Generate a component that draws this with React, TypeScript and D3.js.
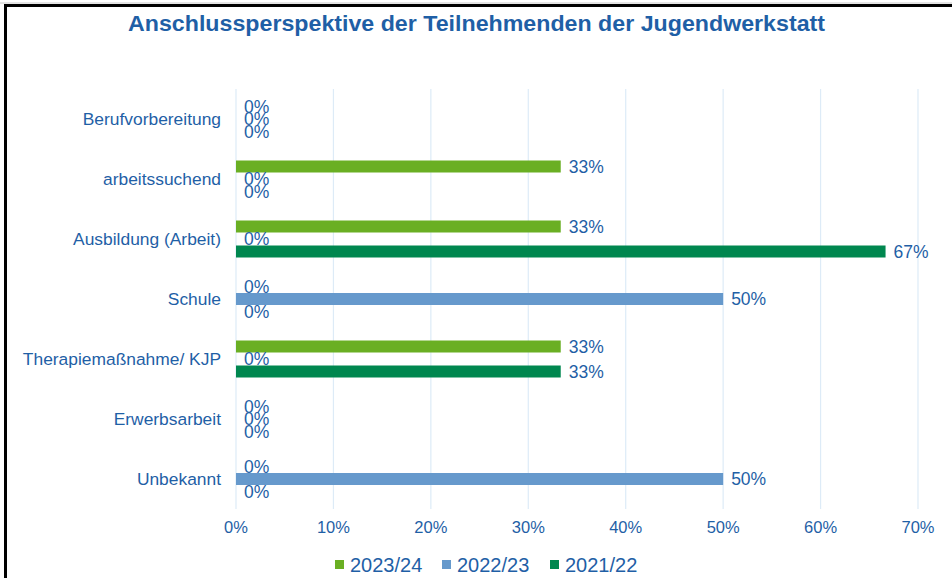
import React from "react";
import * as d3 from "d3";

const categories = [
  "Berufvorbereitung",
  "arbeitssuchend",
  "Ausbildung (Arbeit)",
  "Schule",
  "Therapiemaßnahme/ KJP",
  "Erwerbsarbeit",
  "Unbekannt",
];
const seriesNames = ["2023/24", "2022/23", "2021/22"];
const values2324 = [0, 33.33, 33.33, 0, 33.33, 0, 0];
const values2223 = [0, 0, 0, 50, 0, 0, 50];
const values2122 = [0, 0, 66.67, 0, 33.33, 0, 0];
const xTicks = [0, 10, 20, 30, 40, 50, 60, 70];
const colors = ["#6AAF23", "#6699CC", "#00874F"];

const W = 952;
const H = 578;
const textColor = "#1F5FA6";
const font = "'Liberation Sans', Arial, sans-serif";

export default function App() {
  const series = [values2324, values2223, values2122];
  const x = d3.scaleLinear().domain([0, 70]).range([236, 918]);
  const y = d3.scaleBand().domain(categories).range([89, 509]);
  const inner = d3
    .scaleBand()
    .domain(seriesNames)
    .range([-18.5, 18.5])
    .paddingInner(0.04);
  const barH = 12;
  const legendX = [335, 442, 550];

  return (
    <svg
      width={W}
      height={H}
      style={{ position: "absolute", left: 0, top: 0, fontFamily: font }}
    >
      <rect x={0} y={0} width={W} height={H} fill="#fff" />
      <line x1={0} x2={W} y1={3} y2={3} stroke="#c8c8c8" strokeWidth={1} />
      <line x1={4} x2={W} y1={5.5} y2={5.5} stroke="#000" strokeWidth={3} />
      <line x1={5.5} x2={5.5} y1={4} y2={H} stroke="#000" strokeWidth={3} />
      <text
        x={128}
        y={31}
        fontWeight="bold"
        fontSize={21.5}
        textLength={697}
        lengthAdjust="spacingAndGlyphs"
        fill={textColor}
      >
        Anschlussperspektive der Teilnehmenden der Jugendwerkstatt
      </text>
      {xTicks.map((t) => (
        <g key={t}>
          <line
            x1={x(t)}
            x2={x(t)}
            y1={89}
            y2={509}
            stroke="#DDEBF7"
            strokeWidth={1.2}
          />
          <text
            x={x(t)}
            y={533}
            textAnchor="middle"
            fontSize={16.5}
            fill={textColor}
          >
            {t}%
          </text>
        </g>
      ))}
      {categories.map((c) => (
        <text
          key={c}
          x={221}
          y={(y(c) as number) + y.bandwidth() / 2 + 6}
          textAnchor="end"
          fontSize={17.4}
          fill={textColor}
        >
          {c}
        </text>
      ))}
      {series.map((vals, si) =>
        vals.map((v, ci) => {
          const cy =
            (y(categories[ci]) as number) +
            y.bandwidth() / 2 +
            (inner(seriesNames[si]) as number) +
            inner.bandwidth() / 2;
          return (
            <g key={si + "-" + ci}>
              {v > 0 && (
                <rect
                  x={x(0)}
                  y={cy - barH / 2}
                  width={x(v) - x(0)}
                  height={barH}
                  fill={colors[si]}
                />
              )}
              <text
                x={x(v) + 8}
                y={cy + 6}
                fontSize={17.5}
                fill={textColor}
              >
                {Math.round(v)}%
              </text>
            </g>
          );
        })
      )}
      {seriesNames.map((s, i) => {
        const lx = legendX[i];
        return (
          <g key={s}>
            <rect x={lx} y={560} width={9} height={9} fill={colors[i]} />
            <text x={lx + 15} y={572} fontSize={20} fill={textColor}>
              {s}
            </text>
          </g>
        );
      })}
    </svg>
  );
}
